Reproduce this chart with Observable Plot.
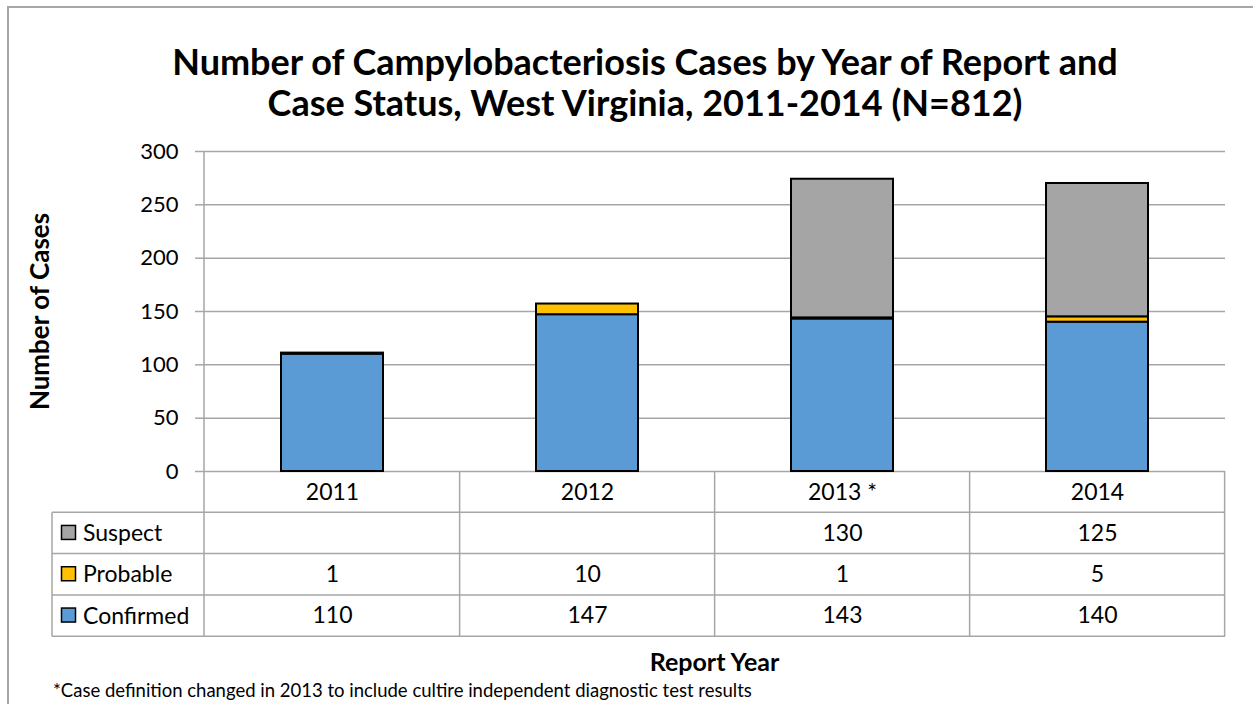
<!DOCTYPE html>
<html>
<head>
<meta charset="utf-8">
<script src="https://cdn.jsdelivr.net/npm/d3@7"></script>
<script src="https://cdn.jsdelivr.net/npm/@observablehq/plot@0.6"></script>
<style>
  html, body { margin: 0; padding: 0; background: #fff; }
  body { width: 1253px; height: 704px; overflow: hidden; position: relative; font-family: Lato, "Open Sans", sans-serif; }
  #frame { position: absolute; left: 7px; top: 6px; width: 1260px; height: 760px; border: 2px solid #a6a6a6; box-sizing: border-box; }
  #title { position: absolute; left: 0; top: 41px; width: 1290px; text-align: center; font-weight: bold; font-size: 36px; line-height: 41px; color: #000; }
  #chart { position: absolute; left: 0; top: 130px; }
  #xlabel { position: absolute; left: 204px; width: 1021px; top: 645px; text-align: center; font-weight: bold; font-size: 25px; line-height: 32px; }
  #note { position: absolute; left: 53px; top: 677px; font-size: 18.5px; line-height: 26px; white-space: nowrap; }
</style>
</head>
<body>
<div id="frame"></div>
<div id="title">Number of Campylobacteriosis Cases by Year of Report and<br>Case Status, West Virginia, 2011-2014 (N=812)</div>
<div id="chart"></div>
<div id="xlabel">Report Year</div>
<div id="note">*Case definition changed in 2013 to include cultire independent diagnostic test results</div>
<script>
const years = ["2011", "2012", "2013 *", "2014"];
const statuses = ["Suspect", "Probable", "Confirmed"];
const suspect = [null, null, 130, 125];
const probable = [1, 10, 1, 5];
const confirmed = [110, 147, 143, 140];
const colors = { Suspect: "#a5a5a5", Probable: "#ffc000", Confirmed: "#5b9bd5" };
const yTicks = [0, 50, 100, 150, 200, 250, 300];

const seriesByStatus = { Suspect: suspect, Probable: probable, Confirmed: confirmed };
const stackOrder = ["Confirmed", "Probable", "Suspect"];
const rows = [];
for (const s of stackOrder) {
  years.forEach((yr, i) => {
    const v = seriesByStatus[s][i];
    if (v != null) rows.push({ year: yr, status: s, value: v });
  });
}
const tableRows = years.map((yr, i) => ({ year: yr, Suspect: suspect[i], Probable: probable[i], Confirmed: confirmed[i] }));

const W = 1253, H = 515;
const mL = 204, mR = 28, mT = 21, mB = 174;
const rowH = 41.3;
const font = "Lato, 'Open Sans', sans-serif";
const lineColor = "#a6a6a6";

function tableMark(index, scales, values, dimensions) {
  const x = scales.x, y = scales.y;
  const step = (dimensions.width - dimensions.marginLeft - dimensions.marginRight) / years.length;
  const bw = x.bandwidth ? x.bandwidth() : step * 0.4;
  const y0 = y(0);
  const left = dimensions.marginLeft;
  const right = dimensions.width - dimensions.marginRight;
  const tableLeft = 52;
  const g = d3.create("svg:g").attr("text-anchor", "start");
  // vertical axis line
  g.append("line").attr("x1", left).attr("x2", left).attr("y1", y(300)).attr("y2", y0 + rowH * 4)
    .attr("stroke", lineColor).attr("stroke-width", 1.5);
  // horizontal table lines
  for (let r = 1; r <= 4; r++) {
    g.append("line").attr("x1", tableLeft).attr("x2", right).attr("y1", y0 + rowH * r).attr("y2", y0 + rowH * r)
      .attr("stroke", lineColor).attr("stroke-width", 1.5);
  }
  // left border of legend column
  g.append("line").attr("x1", tableLeft).attr("x2", tableLeft).attr("y1", y0 + rowH).attr("y2", y0 + rowH * 4)
    .attr("stroke", lineColor).attr("stroke-width", 1.5);
  // band boundaries
  years.forEach((yr) => {
    const cx = x(yr) + bw / 2;
    const xb = cx + step / 2;
    g.append("line").attr("x1", xb).attr("x2", xb).attr("y1", y0).attr("y2", y0 + rowH * 4)
      .attr("stroke", lineColor).attr("stroke-width", 1.5);
  });
  // legend labels with swatches
  statuses.forEach((s, r) => {
    const cy = y0 + rowH * (r + 1) + rowH / 2;
    g.append("rect").attr("x", tableLeft + 9.5).attr("y", cy - 7.5).attr("width", 14).attr("height", 14)
      .attr("fill", colors[s]).attr("stroke", "#000").attr("stroke-width", 1.5);
    g.append("text").attr("x", tableLeft + 31).attr("y", cy).attr("dy", "0.35em")
      .attr("text-anchor", "start")
      .attr("font-size", 23).attr("font-family", font).attr("fill", "#000").text(s);
  });
  return g.node();
}

const textOpts = (field, r) => ({
  x: "year", y: () => 0, text: field, dy: rowH * r + rowH / 2,
  fontSize: 23, fill: "#000", lineAnchor: "middle", textAnchor: "middle"
});

const plot = Plot.plot({
  width: W, height: H,
  marginLeft: mL, marginRight: mR, marginTop: mT, marginBottom: mB,
  style: { fontFamily: font, background: "transparent", overflow: "visible" },
  x: { domain: years, paddingInner: 0.6, paddingOuter: 0.3, axis: null },
  y: { domain: [0, 300], axis: null },
  color: { domain: statuses, range: statuses.map(s => colors[s]) },
  marks: [
    Plot.gridY(yTicks, { stroke: lineColor, strokeOpacity: 1, strokeWidth: 1.5 }),
    Plot.axisY({ ticks: yTicks, tickSize: 9, tickPadding: 17, fontSize: 22, stroke: lineColor, strokeWidth: 1.5, label: null, fill: "#000" }),
    Plot.text(["Number of Cases"], { frameAnchor: "left", dx: -164, rotate: -90, textAnchor: "middle", fontSize: 26, fontWeight: "bold", fill: "#000" }),
    Plot.barY(rows, { x: "year", y: "value", fill: "status", stroke: "#000", strokeWidth: 2, order: stackOrder }),
    tableMark,
    Plot.text(tableRows, { ...textOpts("year", 0) }),
    Plot.text(tableRows, { ...textOpts(d => d.Suspect == null ? "" : String(d.Suspect), 1) }),
    Plot.text(tableRows, { ...textOpts(d => String(d.Probable), 2) }),
    Plot.text(tableRows, { ...textOpts(d => String(d.Confirmed), 3) })
  ]
});
document.getElementById("chart").appendChild(plot);
</script>
</body>
</html>
